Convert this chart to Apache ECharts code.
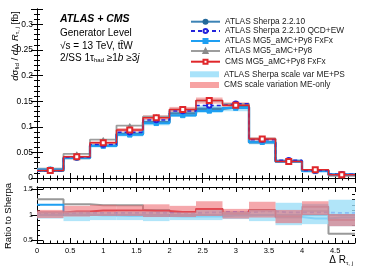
<!DOCTYPE html>
<html><head><meta charset="utf-8">
<script src="https://cdn.jsdelivr.net/npm/echarts@6/dist/echarts.min.js"></script>
<style>html,body{margin:0;padding:0;background:#fff}#c{width:374px;height:268px}</style>
</head><body><div id="c"></div>
<script>
// ---- data ----
const binEdges = [0, 0.4, 0.8, 1.2, 1.6, 2.0, 2.4, 2.8, 3.2, 3.6, 4.0, 4.4, 4.8];
const xTickLabels = ['0','0.5','1','1.5','2','2.5','3','3.5','4','4.5'];
const yTickLabels = ['0','0.05','0.1','0.15','0.2','0.25','0.3'];
const ratioTickValues = [0.5, 1, 1.5];
const ratioTickLabels = ['0.5','1','1.5'];
const ratioMinorTicks = [0.6, 0.7, 0.8, 0.9, 1.1, 1.2, 1.3, 1.4];

const sherpa     = [0.0140, 0.0390, 0.0630, 0.0860, 0.1090, 0.1260, 0.1350, 0.1380, 0.0700, 0.0330, 0.0140, 0.0070];
const sherpaEW   = [0.0144, 0.0406, 0.0655, 0.0894, 0.1134, 0.1310, 0.1418, 0.1449, 0.0749, 0.0347, 0.0147, 0.0073];
const mg5FxFx    = [0.0168, 0.0394, 0.0624, 0.0843, 0.1068, 0.1222, 0.1310, 0.1366, 0.0700, 0.0317, 0.0130, 0.0067];
const mg5Py8     = [0.0183, 0.0472, 0.0750, 0.1023, 0.1200, 0.1336, 0.1512, 0.1449, 0.0770, 0.0314, 0.0151, 0.0044];
const cmsFxFx    = [0.0147, 0.0417, 0.0687, 0.0937, 0.1177, 0.1336, 0.1512, 0.1421, 0.0763, 0.0320, 0.0162, 0.0063];
const sherpaBandLo = [0.0132, 0.0368, 0.0596, 0.0812, 0.1028, 0.1192, 0.1272, 0.1304, 0.0658, 0.0301, 0.0129, 0.0063];
const sherpaBandHi = [0.0148, 0.0408, 0.0660, 0.0898, 0.1140, 0.1318, 0.1418, 0.1448, 0.0742, 0.0362, 0.0153, 0.0078];
const cmsBandLo    = [0.0140, 0.0400, 0.0660, 0.0900, 0.1130, 0.1285, 0.1452, 0.1365, 0.0730, 0.0303, 0.0152, 0.0059];
const cmsBandHi    = [0.0155, 0.0436, 0.0716, 0.0975, 0.1225, 0.1388, 0.1572, 0.1478, 0.0797, 0.0337, 0.0172, 0.0067];

const rSherpa   = [1.00, 1.00, 1.00, 1.00, 1.00, 1.00, 1.00, 1.00, 1.00, 1.00, 1.00, 1.00];
const rSherpaEW = [1.03, 1.04, 1.04, 1.04, 1.04, 1.04, 1.05, 1.05, 1.07, 1.05, 1.05, 1.04];
const rFxFx     = [1.20, 1.01, 0.99, 0.98, 0.98, 0.97, 0.97, 0.99, 1.00, 0.96, 0.93, 0.95];
const rPy8      = [1.31, 1.21, 1.19, 1.19, 1.10, 1.06, 1.12, 1.05, 1.10, 0.95, 1.08, 0.63];
const rCMS      = [1.05, 1.07, 1.09, 1.09, 1.08, 1.06, 1.12, 1.03, 1.09, 0.97, 1.16, 0.90];
const rSherpaLo = [0.93, 0.88, 0.90, 0.90, 0.88, 0.90, 0.90, 0.92, 0.88, 0.80, 0.82, 0.78];
const rSherpaHi = [1.07, 1.07, 1.06, 1.07, 1.07, 1.05, 1.10, 1.06, 1.10, 1.24, 1.22, 1.30];
const rCMSLo    = [0.94, 0.97, 0.98, 0.98, 0.96, 0.96, 0.98, 0.93, 0.95, 0.84, 1.00, 0.78];
const rCMSHi    = [1.10, 1.18, 1.20, 1.19, 1.21, 1.18, 1.27, 1.12, 1.26, 1.10, 1.27, 1.02];

const names = {
  sherpa: 'ATLAS Sherpa 2.2.10',
  ew: 'ATLAS Sherpa 2.2.10 QCD+EW',
  fxfx: 'ATLAS MG5_aMC+Py8 FxFx',
  py8: 'ATLAS MG5_aMC+Py8',
  cms: 'CMS MG5_aMC+Py8 FxFx',
  band1: 'ATLAS Sherpa scale var ME+PS',
  band2: 'CMS scale variation ME-only'
};

// ---- helpers ----
const FONT = '"Liberation Sans", Arial, Helvetica, sans-serif';
function stepData(vals, markers) {
  const d = [];
  vals.forEach((v, i) => {
    d.push({ value: [binEdges[i], v], symbol: 'none' });
    const c = { value: [(binEdges[i] + binEdges[i + 1]) / 2, v] };
    if (!markers) c.symbol = 'none';
    d.push(c);
  });
  d.push({ value: [binEdges[binEdges.length - 1], vals[vals.length - 1]], symbol: 'none' });
  return d;
}
function bandData(lo, hi) {
  return lo.map((l, i) => [binEdges[i], binEdges[i + 1], l, hi[i]]);
}
function bandSeries(name, lo, hi, xi, yi, color, opacity, z) {
  return {
    name, type: 'custom', xAxisIndex: xi, yAxisIndex: yi, z, clip: true,
    encode: { x: [0, 1], y: [2, 3] },
    itemStyle: { color },
    renderItem: (params, api) => {
      const p1 = api.coord([api.value(0), api.value(3)]);
      const p2 = api.coord([api.value(1), api.value(2)]);
      return { type: 'rect', shape: { x: p1[0], y: p1[1], width: p2[0] - p1[0], height: p2[1] - p1[1] },
               style: { fill: color, opacity } };
    },
    data: bandData(lo, hi)
  };
}
function lineSeries(name, vals, xi, yi, color, width, dashed, symbol, symSize, symColor, z) {
  return {
    name, type: 'line', step: 'end', xAxisIndex: xi, yAxisIndex: yi, z,
    showSymbol: !!symbol, showAllSymbol: true,
    symbol: symbol || 'none', symbolSize: symSize || 5,
    itemStyle: { color: symColor || color, borderColor: symColor || color, borderWidth: 1 },
    lineStyle: { color, width, type: dashed ? [4, 3] : 'solid' },
    data: stepData(vals, !!symbol), animation: false
  };
}
const axisLineStyle = { show: true, lineStyle: { color: '#000', width: 1 } };
function xAx(grid, pos, labels) {
  return {
    type: 'value', gridIndex: grid, position: pos, min: 0, max: 4.8, interval: 0.5,
    axisLine: axisLineStyle,
    axisTick: { show: true, inside: true, length: 5, lineStyle: { color: '#000' } },
    minorTick: { show: true, splitNumber: 5, length: 2.5, lineStyle: { color: '#000' } },
    splitLine: { show: false },
    axisLabel: labels ? { show: true, fontFamily: FONT, fontSize: 7.5, color: '#000', margin: 4,
      formatter: v => { const k = Math.round(v / 0.5); return (Math.abs(v - k * 0.5) < 1e-6 && k < xTickLabels.length) ? xTickLabels[k] : ''; } }
      : { show: false }
  };
}
function yMain(pos, labels) {
  return {
    type: 'value', gridIndex: 0, position: pos, min: 0, max: 0.33, interval: 0.05,
    axisLine: axisLineStyle,
    axisTick: { show: true, inside: true, length: 6, lineStyle: { color: '#000' } },
    minorTick: { show: true, splitNumber: 5, length: 3, lineStyle: { color: '#000' } },
    splitLine: { show: false },
    axisLabel: labels ? { show: true, fontFamily: FONT, fontSize: 8.5, color: '#000', margin: 4,
      formatter: v => { const k = Math.round(v / 0.05); return (Math.abs(v - k * 0.05) < 1e-6 && k < yTickLabels.length) ? yTickLabels[k] : ''; } }
      : { show: false }
  };
}
function yRatio(pos, labels) {
  return {
    type: 'value', gridIndex: 1, position: pos, min: 0.45, max: 1.55,
    axisLine: axisLineStyle,
    axisTick: { show: true, inside: true, length: 6, lineStyle: { color: '#000' }, customValues: ratioTickValues },
    splitLine: { show: false },
    axisLabel: labels ? { show: true, fontFamily: FONT, fontSize: 7, color: '#000', margin: 4,
      customValues: ratioTickValues,
      formatter: v => { const i = ratioTickValues.findIndex(t => Math.abs(t - v) < 1e-6); return i >= 0 ? ratioTickLabels[i] : ''; } }
      : { show: false }
  };
}
function yRatioMinor(pos) {
  return {
    type: 'value', gridIndex: 1, position: pos, min: 0.45, max: 1.55,
    axisLine: { show: false },
    axisTick: { show: true, inside: true, length: 3, lineStyle: { color: '#000' }, customValues: ratioMinorTicks },
    splitLine: { show: false },
    axisLabel: { show: false }
  };
}

const C = {
  sherpa: '#3c83b5', sherpaMk: '#24699a',
  ew: '#2323dc',
  fxfx: '#1e9ff2',
  py8: '#9d9d9d',
  cms: '#e0262a',
  band1: '#a9e3fa', band2: '#f28080'
};

const series = [
  bandSeries(names.band1, sherpaBandLo, sherpaBandHi, 0, 0, C.band1, 0.9, 1),
  bandSeries(names.band2, cmsBandLo, cmsBandHi, 0, 0, C.band2, 0.6, 1),
  lineSeries(names.py8, mg5Py8, 0, 0, C.py8, 1.8, false, 'triangle', 4, '#8a8a8a', 3),
  lineSeries(names.sherpa, sherpa, 0, 0, C.sherpa, 2.5, false, 'circle', 4.5, C.sherpaMk, 4),
  lineSeries(names.fxfx, mg5FxFx, 0, 0, C.fxfx, 2, false, 'rect', 4.5, C.fxfx, 5),
  lineSeries(names.ew, sherpaEW, 0, 0, C.ew, 1.5, true, 'emptyCircle', 4.5, C.ew, 6),
  lineSeries(names.cms, cmsFxFx, 0, 0, C.cms, 1.5, false, 'emptyRect', 5, C.cms, 7),
  lineSeries('r_py8', rPy8, 2, 2, '#999', 2, false, null, 0, null, 3),
  lineSeries('r_sherpa', rSherpa, 2, 2, C.sherpa, 2, false, null, 0, null, 4),
  lineSeries('r_fxfx', rFxFx, 2, 2, C.fxfx, 2, false, null, 0, null, 5),
  lineSeries('r_ew', rSherpaEW, 2, 2, '#3c3cf0', 1.8, true, null, 0, null, 6),
  lineSeries('r_cms', rCMS, 2, 2, '#d42a35', 2, false, null, 0, null, 7),
  bandSeries('r_band1', rSherpaLo, rSherpaHi, 2, 2, '#9edef8', 0.8, 8),
  bandSeries('r_band2', rCMSLo, rCMSHi, 2, 2, '#ec6068', 0.55, 9)
];

const legendRows = [
  { name: names.sherpa, y: 21.7 },
  { name: names.ew, y: 31 },
  { name: names.fxfx, y: 41 },
  { name: names.py8, y: 51 },
  { name: names.cms, y: 61.7 },
  { name: names.band1, y: 74.3, icon: 'rect', color: C.band1 },
  { name: names.band2, y: 85, icon: 'rect', color: '#f7a3a3' }
];
const legends = legendRows.map(r => ({
  orient: 'vertical', left: 190, top: r.y - 5, padding: 0, itemWidth: 29, itemHeight: r.icon ? 6 : 5,
  selectedMode: false,
  textStyle: { fontFamily: FONT, fontSize: 8.3, color: '#222', lineHeight: 10 },
  data: [r.icon ? { name: r.name, icon: r.icon, itemStyle: { color: r.color, opacity: 1 } } : { name: r.name }]
}));

const option = {
  animation: false,
  backgroundColor: '#fff',
  textStyle: { fontFamily: FONT },
  grid: [
    { left: 37, right: 19, top: 9, height: 169 },
    { left: 37, right: 19, top: 187, height: 56 }
  ],
  xAxis: [xAx(0, 'bottom', false), xAx(0, 'top', false), xAx(1, 'bottom', true), xAx(1, 'top', false)],
  yAxis: [yMain('left', true), yMain('right', false), yRatio('left', true), yRatio('right', false),
          yRatioMinor('left'), yRatioMinor('right')],
  legend: legends,
  graphic: [
    { type: 'text', left: 60, top: 14, style: { text: 'ATLAS + CMS', font: 'italic bold 10.5px ' + FONT, fill: '#000' } },
    { type: 'text', left: 60, top: 28, style: { text: 'Generator Level', font: '10px ' + FONT, fill: '#000' } },
    { type: 'text', left: 60, top: 41, style: { text: '√s = 13 TeV, tt̄W', font: '10px ' + FONT, fill: '#000' } },
    { type: 'text', left: 60, top: 53, style: {
        text: '2/SS 1τ{sub|had} ≥1{it|b} ≥3{it|j}', font: '10px ' + FONT, fill: '#000',
        rich: { sub: { fontSize: 6, verticalAlign: 'bottom', padding: [4, 0, 0, 0], fontFamily: FONT, fill: '#000' },
                it: { fontStyle: 'italic', fontSize: 10, fontFamily: FONT, fill: '#000' } } } },
    { type: 'text', x: 15, y: 46, rotation: Math.PI / 2, style: {
        text: '{it|d}σ{sub|fid} / {it|d}Δ {it|R}{sub|τ, j} [fb]', font: '9.5px ' + FONT, fill: '#000',
        align: 'center', verticalAlign: 'middle',
        rich: { sub: { fontSize: 6, padding: [5, 0, 0, 0], fontFamily: FONT, fill: '#000' },
                it: { fontStyle: 'italic', fontSize: 9.5, fontFamily: FONT, fill: '#000' } } } },
    { type: 'text', x: 8, y: 216, rotation: Math.PI / 2, style: {
        text: 'Ratio to Sherpa', font: '9.5px ' + FONT, fill: '#000', align: 'center', verticalAlign: 'middle' } },
    { type: 'text', x: 353, y: 260, style: {
        text: 'Δ R{sub|τ, j}', font: '10px ' + FONT, fill: '#000', align: 'right', verticalAlign: 'middle',
        rich: { sub: { fontSize: 6, padding: [6, 0, 0, 0], fontFamily: FONT, fill: '#000' } } } }
  ],
  series
};
const chart = echarts.init(document.getElementById('c'), null, { renderer: 'canvas' });
chart.setOption(option);
</script>
</body></html>
